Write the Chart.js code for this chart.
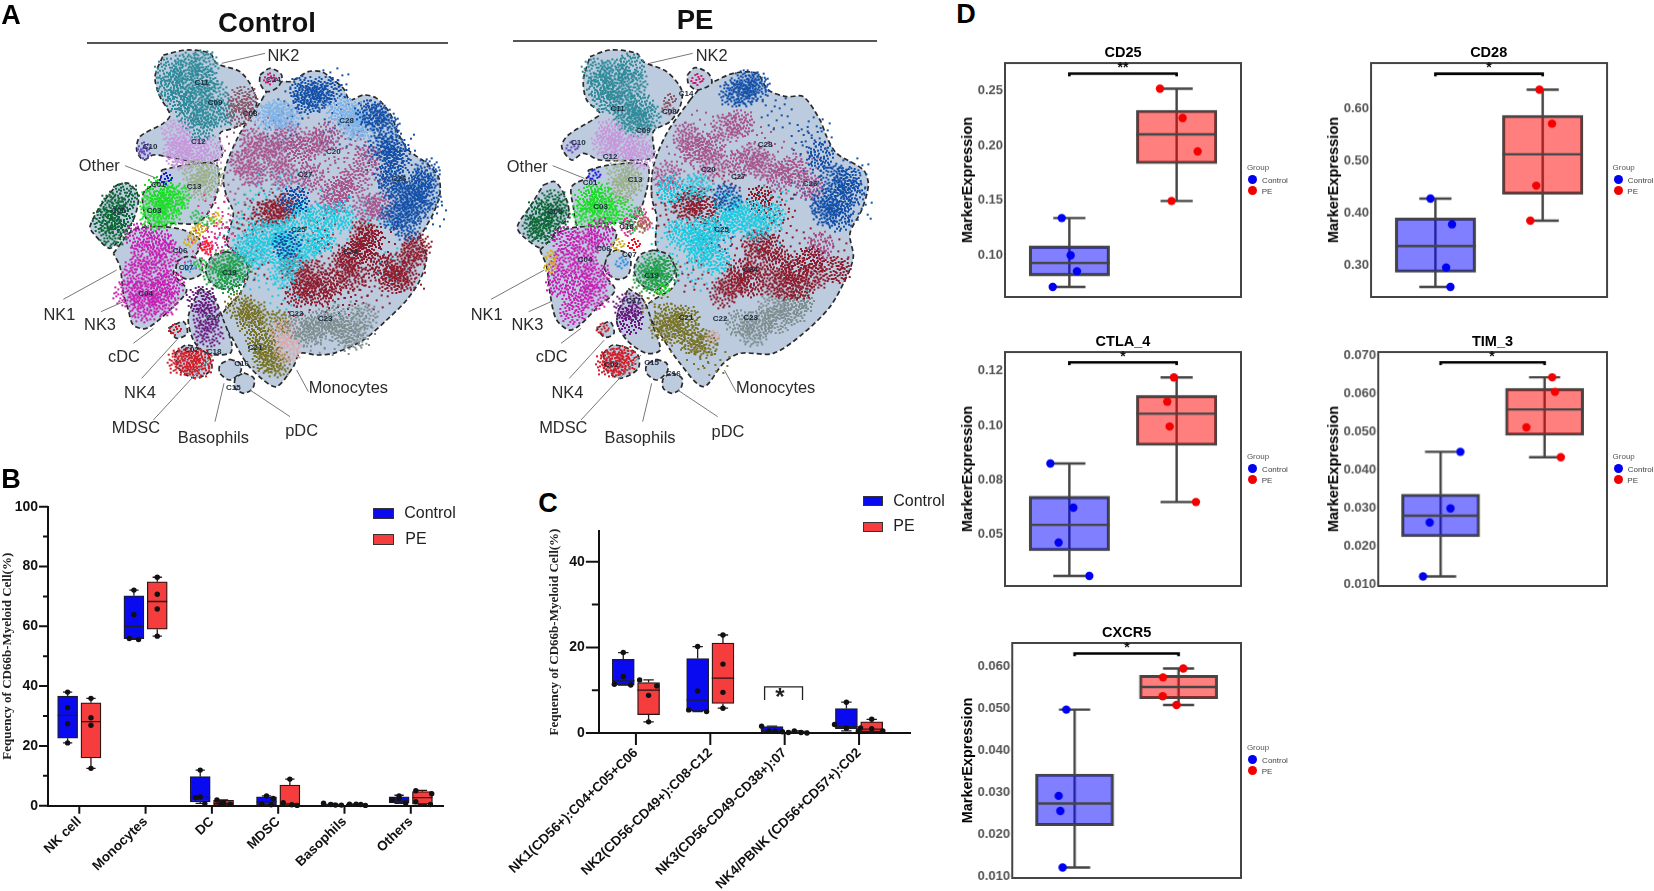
<!DOCTYPE html>
<html><head><meta charset="utf-8">
<script src="https://cdn.jsdelivr.net/npm/chart.js@4"></script>
<style>
html,body{margin:0;padding:0;background:#fff;width:1654px;height:891px;overflow:hidden;font-family:"Liberation Sans",Arial,sans-serif}
canvas{position:absolute}
.t{position:absolute;white-space:nowrap;transform:translate(-50%,-50%);line-height:1}
.r{position:absolute}
</style></head><body>
<script>
/* ---------- Panel B data ---------- */
const bCategories=['NK cell','Monocytes','DC','MDSC','Basophils','Others'];
const bControlStats=[[21,22.6,30.2,36.7,38],[55.6,55.9,60,70.2,72.1],[0.8,1.3,2.8,9.7,11.9],[0.3,0.3,1.3,3,3.3],[0.2,0.2,0.3,0.6,0.8],[0.8,1,1.9,3,3.5]];
const bPEStats=[[12.5,16,28.1,34.4,35.9],[56.7,59,68.3,74.9,76.4],[0.5,0.2,0.8,1.8,1.9],[0.1,0.1,0.6,6.9,8.9],[0.1,0.2,0.45,0.5,0.5],[0.4,0.5,2.7,4.7,5.1]];
const bControlPoints=[[38,32.8,27.4,21],[72.1,63.9,55.9,55.6],[11.9,2.9,2.7,0.7],[3.3,2.4,0.6,0.3],[0.8,0.4,0.2,0.2],[3.3,2.5,2,0.8]];
const bPEPoints=[[35.9,29.4,26.9,12.5],[76.4,70.7,65.8,56.7],[1.9,1,0.7,0.5],[8.9,1,0.3,0.1],[0.5,0.5,0.4,0.1],[5,4,1.3,0.4]];
const bControlJitter=[[0,0,0,0],[0,0,-0.07,0.07],[0,0,-0.07,0.07],[0,0.1,-0.07,0.07],[-0.14,-0.03,0.04,0.13],[0,0,-0.1,0.1]];
const bPEJitter=[[0,0,0,0],[0,0,0,0],[-0.1,0,-0.04,0.1],[0,-0.1,0.03,0.11],[-0.1,0,0.07,0.14],[-0.1,0.14,-0.1,0.12]];
const bYTicks=[0,10,20,30,40,50,60,70,80,90,100];
const bYLabels=['0','','20','','40','','60','','80','','100'];

/* ---------- Panel C data ---------- */
const cCategories=['NK1(CD56+):C04+C05+C06','NK2(CD56-CD49+):C08-C12','NK3(CD56-CD49-CD38+):07','NK4/PBNK (CD56+CD57+):C02'];
const cControlStats=[[11.2,11.2,12.2,17.2,18.8],[5,5.1,7.7,17.4,20.2],[0.3,0.3,0.7,1.5,1.6],[0.5,1,1.5,5.7,7.2]];
const cPEStats=[[2.6,4.3,10,11.8,12.4],[5.8,6.9,12.8,21,22.9],[0,0,0.2,0.5,0.5],[0.3,0.3,0.9,2.6,3.2]];
const cControlPoints=[[18.8,13.2,11.4,11.2],[20.2,9.8,5.4,5],[1.6,0.5,0.4,0.3],[7.2,2,1.1,0.5]];
const cPEPoints=[[12.4,11,8.8,2.6],[22.9,16.1,9.5,5.8],[0.1,0.5,0.1,0],[3.2,1.2,1,0.5]];
const cControlJitter=[[0,0,-0.12,0.1],[0,0,-0.12,0.12],[-0.14,-0.04,0.04,0.14],[0,-0.16,0,0.16]];
const cPEJitter=[[-0.12,0.11,0,0],[0,0,0,0],[-0.12,-0.04,0.05,0.13],[0,-0.15,0,0.15]];
const cYTicks=[0,10,20,30,40];
const cYLabels=['0','','20','','40'];
const cBracket=[[2.73,7.7],[2.73,10.8],[3.24,10.8],[3.24,7.7]];

/* ---------- Panel D data: [min, q1, median, q3, max] ---------- */
const dCD25Control=[0.0712,0.0812,0.093,0.1085,0.1339], dCD25PE=[0.1494,0.1833,0.21,0.2318,0.2515];
const dCD25ControlPts=[0.1339,0.1,0.0855,0.0712], dCD25PEPts=[0.2515,0.2248,0.1945,0.1494];
const dCD25ControlJit=[-0.071,0.012,0.071,-0.155], dCD25PEJit=[-0.155,0.056,0.196,-0.047];
const dCD25Ticks=[0.10,0.15,0.20,0.25], dCD25Labels=['0.10','0.15','0.20','0.25'];
const dCD28Control=[0.2585,0.2866,0.337,0.3906,0.4277], dCD28PE=[0.3855,0.436,0.5126,0.5872,0.6364];
const dCD28ControlPts=[0.4277,0.3785,0.2955,0.2585], dCD28PEPts=[0.6364,0.5713,0.4526,0.3855];
const dCD28ControlJit=[-0.046,0.155,0.1,0.14], dCD28PEJit=[-0.03,0.087,-0.06,-0.115];
const dCD28Ticks=[0.30,0.40,0.50,0.60], dCD28Labels=['0.30','0.40','0.50','0.60'];
const dCTLAControl=[0.0448,0.054,0.0635,0.074,0.086], dCTLAPE=[0.0719,0.0927,0.1043,0.111,0.1176];
const dCTLAControlPts=[0.086,0.0698,0.057,0.0448], dCTLAPEPts=[0.1176,0.1087,0.0996,0.0719];
const dCTLAControlJit=[-0.177,0.037,-0.1,0.186], dCTLAPEJit=[-0.025,-0.087,-0.065,0.18];
const dCTLATicks=[0.06,0.08,0.10,0.12], dCTLALabels=['0.05','0.08','0.10','0.12'];
const dTIMControl=[0.0121,0.0225,0.028,0.0336,0.0447], dTIMPE=[0.0433,0.049,0.0558,0.0613,0.0642];
const dTIMControlPts=[0.0447,0.0299,0.0262,0.0121], dTIMPEPts=[0.0642,0.0604,0.0511,0.0433];
const dTIMControlJit=[0.19,0.095,-0.105,-0.169], dTIMPEJit=[0.073,0.1,-0.175,0.156];
const dTIMTicks=[0.01,0.02,0.03,0.04,0.05,0.06,0.07], dTIMLabels=['0.010','0.020','0.030','0.040','0.050','0.060','0.070'];
const dCXCRControl=[0.0121,0.0221,0.0274,0.0344,0.0498], dCXCRPE=[0.0509,0.0524,0.0552,0.058,0.0596];
const dCXCRControlPts=[0.0498,0.0292,0.0256,0.0121], dCXCRPEPts=[0.0596,0.0575,0.053,0.0509];
const dCXCRControlJit=[-0.08,-0.153,-0.137,-0.115], dCXCRPEJit=[0.045,-0.15,-0.153,-0.02];
const dCXCRTicks=[0.01,0.02,0.03,0.04,0.05,0.06], dCXCRLabels=['0.010','0.020','0.030','0.040','0.050','0.060'];

/* ---------- Panel A: t-SNE regions ---------- */
const ctrlHullMain=[[785,300],[800,275],[845,245],[870,245],[890,235],[925,215],[965,215],[1000,240],[1030,265],[1050,300],[1090,285],[1130,295],[1170,340],[1195,400],[1225,450],[1280,490],[1315,530],[1320,580],[1300,640],[1275,685],[1260,715],[1280,770],[1260,840],[1220,900],[1160,960],[1090,1020],[1000,1060],[950,1065],[900,1060],[880,1100],[830,1160],[790,1140],[740,1090],[700,1020],[665,950],[720,880],[745,820],[720,770],[680,730],[700,640],[680,590],[670,540],[680,490],[720,400],[785,300]];
const ctrlHullNK2=[[490,165],[560,150],[630,160],[650,190],[720,215],[755,260],[770,310],[745,360],[700,385],[660,400],[665,470],[610,490],[550,480],[500,470],[460,465],[430,480],[410,450],[420,410],[490,370],[510,345],[480,290],[465,230],[490,165]];
const ctrlHullC14=[[780,225],[810,205],[845,225],[835,260],[800,275],[780,250],[780,225]];
const ctrlHullOther=[[485,510],[530,500],[590,490],[650,495],[655,560],[630,630],[590,670],[520,670],[470,680],[440,660],[430,580],[480,540],[485,510]];
const ctrlHullC05=[[350,555],[385,550],[415,590],[400,660],[370,700],[330,745],[280,700],[270,680],[300,620],[350,555]];
const ctrlHullC04=[[340,760],[400,690],[480,680],[550,690],[600,720],[590,760],[540,790],[520,820],[560,870],[520,920],[440,985],[400,975],[385,930],[370,880],[360,800],[340,760]];
const ctrlHullC07=[[530,785],[560,770],[600,780],[605,820],[565,838],[530,820],[530,785]];
const ctrlHullC19=[[680,755],[725,770],[745,810],[725,850],[680,868],[635,850],[617,810],[635,770],[680,755]];
const ctrlHullC17=[[600,865],[640,890],[670,960],[695,1030],[690,1060],[620,1060],[580,1020],[565,950],[600,865]];
const ctrlHullCDC=[[505,985],[550,965],[562,1000],[530,1015],[505,985]];
const ctrlHullC02=[[525,1060],[560,1035],[620,1060],[635,1105],[590,1135],[540,1110],[525,1060]];
const ctrlHullC16=[[690,1078],[720,1090],[722,1115],[690,1140],[660,1120],[660,1095],[690,1078]];
const ctrlHullC15=[[732,1118],[762,1135],[758,1165],[732,1180],[706,1165],[706,1135],[732,1118]];
const peHullMain=[[750,300],[790,255],[820,245],[880,220],[950,220],[985,270],[1040,290],[1090,290],[1140,360],[1160,410],[1190,460],[1270,510],[1285,555],[1265,630],[1230,700],[1240,770],[1220,830],[1170,920],[1090,1000],[1000,1060],[900,1060],[850,1090],[790,1160],[720,1090],[660,1000],[620,920],[700,860],[705,800],[650,745],[650,650],[635,590],[640,500],[680,400],[750,300]];
const peHullNK2=[[450,170],[510,150],[590,160],[610,185],[680,215],[725,270],[720,320],[690,365],[640,395],[640,470],[590,480],[480,480],[430,460],[395,480],[365,440],[385,405],[465,355],[480,340],[440,300],[430,240],[450,170]];
const peHullC14=[[742,225],[765,203],[805,220],[815,250],[770,270],[745,250],[742,225]];
const peHullOther=[[445,510],[510,495],[620,495],[620,570],[580,660],[480,670],[415,680],[400,620],[395,560],[445,530],[445,510]];
const peHullC05=[[310,555],[345,545],[380,600],[385,650],[350,690],[310,745],[250,710],[232,680],[270,620],[310,555]];
const peHullC04=[[300,750],[370,690],[500,680],[530,700],[500,780],[490,820],[525,870],[470,925],[395,990],[350,960],[330,880],[320,800],[300,750]];
const peHullC07=[[500,770],[530,750],[570,770],[565,825],[530,838],[495,810],[500,770]];
const peHullC19=[[640,750],[685,765],[705,810],[685,850],[640,870],[600,850],[582,810],[600,765],[640,750]];
const peHullC17=[[565,865],[610,900],[640,980],[660,1050],[620,1060],[560,1020],[530,960],[565,865]];
const peHullCDC=[[470,985],[510,965],[522,1000],[495,1012],[470,985]];
const peHullC02=[[490,1060],[520,1035],[590,1060],[595,1105],[540,1135],[500,1110],[490,1060]];
const peHullC16=[[650,1078],[680,1090],[682,1115],[650,1140],[620,1120],[620,1095],[650,1078]];
const peHullC15=[[696,1118],[726,1135],[722,1165],[696,1180],[670,1165],[670,1135],[696,1118]];

const ctrlC11=[[510,215],[560,200],[610,190],[510,260],[560,250],[610,240],[540,300],[590,295],[640,280],[570,340],[620,340],[660,340],[600,385]];
const ctrlC08=[[730,300],[720,335]];
const ctrlC12=[[530,400],[530,450],[580,450],[630,455],[545,470]];
const ctrlC10=[[432,445],[435,460]];
const ctrlC13=[[590,520],[630,530],[600,560]];
const ctrlC03=[[480,570],[460,610],[510,610],[460,650],[500,640],[530,590]];
const ctrlC01=[[498,537]];
const ctrlC05=[[375,590],[340,620],[320,660],[360,660],[340,700]];
const ctrlC04=[[420,710],[480,730],[500,760],[430,770],[410,820],[470,820],[510,850],[430,880],[480,880],[430,925],[490,910],[385,880]];
const ctrlC06=[[570,725],[590,695]];
const ctrlC07=[[570,800]];
const ctrlC19=[[680,790],[650,820],[710,800],[690,840]];
const ctrlC17=[[605,900],[620,950],[625,1000]];
const ctrlCDC=[[525,990]];
const ctrlC02=[[570,1085],[600,1090],[545,1085]];
const ctrlC14=[[810,238]];
const ctrlC21=[[720,920],[750,960],[780,1020],[830,1090],[800,1080],[830,970],[760,940],[800,1050]];
const ctrlC22=[[855,1000],[865,1045]];
const ctrlC23=[[900,980],[960,970],[1030,990],[1000,960],[1090,950],[930,1000],[1060,1010]];
const ctrlC24=[[830,640],[1090,700],[1080,750],[1240,760],[940,820],[990,850],[920,850],[1030,800],[1180,840],[1190,800],[1050,770],[800,640],[860,620],[1110,720],[1140,800],[1210,830],[1250,740],[900,880],[960,880],[1060,830],[880,800]];
const ctrlC25=[[830,700],[900,650],[960,650],[1020,650],[780,700],[830,750],[920,740],[850,820],[740,740],[860,700],[880,770],[960,720],[770,760]];
const ctrlC26=[[1210,590],[1260,550],[1210,640],[1250,620],[1180,450],[1130,350],[950,290],[910,270],[1170,530],[1280,520],[860,735],[885,600],[1180,560],[1240,580],[1280,590],[1220,680],[1180,650],[1150,440],[1110,340],[1160,380],[1190,480],[920,300],[980,270]];
const ctrlC28=[[1050,340],[1060,370],[830,340],[1020,330],[1080,380],[810,350],[860,350]];
const ctrlC27=[[800,440],[830,470],[900,450],[975,410],[730,490],[1100,620],[1020,570],[1100,480],[930,530],[760,430],[860,410],[940,430],[760,520],[850,520],[1060,540],[1000,600],[1140,620]];
const ctrlMauveSparse=[[760,480],[880,380],[960,470],[1060,450],[700,560],[1130,560],[880,530],[820,540],[1000,510],[1040,400],[720,440],[780,380],[1150,500],[940,590]];
const ctrlCyanSparse=[[760,620],[740,800],[850,880],[1000,700],[1130,640],[700,700],[800,560],[880,560],[940,700],[1180,790],[1000,600],[760,820],[1060,640]];
const ctrlRedSparse=[[760,650],[960,700],[1140,720],[1060,870],[1230,830],[890,900],[800,620],[720,700],[1130,800],[980,760],[760,800],[1130,880],[1020,900]];
const ctrlBlueSparse=[[1000,300],[850,400],[1200,440],[1290,640],[1100,350],[1120,430],[880,310],[1000,250],[1140,480],[1010,400]];
const ctrlGreySparse=[[1080,990],[1010,1020],[950,1010],[1040,950],[725,655]];
const ctrlSpecksRed=[[620,740],[622,745]];
const ctrlSpecksPink=[[650,690],[630,710],[640,630],[600,760],[660,720]];
const ctrlSpecksGreen=[[625,665],[590,650],[600,790]];
const ctrlSpecksGold=[[600,690],[650,655]];

const peC11=[[470,215],[520,220],[570,200],[480,260],[530,260],[580,250],[500,300],[550,310],[600,320],[560,350],[620,350],[590,370]];
const peC08=[[690,300],[685,325]];
const peC14=[[772,240]];
const peC12=[[500,430],[510,400],[590,440],[540,440],[600,470]];
const peC10=[[397,442]];
const peC13=[[545,520],[570,545],[545,570]];
const peC03=[[450,600],[480,590],[440,640],[490,640],[530,630]];
const peC05=[[340,610],[300,640],[310,690],[350,650],[290,680]];
const peC04=[[380,720],[440,730],[370,790],[430,790],[360,850],[420,860],[470,830],[400,930],[460,890],[480,700]];
const peC06=[[535,735],[335,770],[330,800]];
const peC07=[[545,790]];
const peC01=[[463,527]];
const peC19=[[640,800],[620,830],[670,810],[650,840]];
const peC15b=[[670,870]];
const peC17=[[565,920],[570,960]];
const peCDC=[[488,988]];
const peC02=[[530,1085],[550,1080],[510,1090]];
const peC21=[[690,950],[740,960],[670,980],[760,1020],[790,1030],[700,990]];
const peC22=[[820,1010]];
const peC23=[[900,970],[960,970],[1010,960],[1060,930],[940,1000],[1080,900],[1000,920]];
const peC24=[[740,620],[960,600],[990,740],[950,790],[1060,810],[1110,780],[880,850],[850,880],[1000,850],[930,850],[1080,860],[800,630],[1190,810],[1020,790],[950,730],[900,820],[1040,860],[1120,830],[760,600]];
const peC25=[[870,620],[930,640],[790,690],[780,760],[840,680],[990,650],[830,780],[720,700],[770,560],[690,570],[890,660],[950,680],[760,720],[800,730]];
const peC26=[[910,280],[950,260],[880,280],[1140,470],[1190,600],[1220,540],[1160,640],[1200,650],[860,590],[1150,610],[1230,580],[1180,530],[920,250]];
const peC27=[[900,370],[740,410],[810,440],[680,530],[970,500],[1060,510],[1110,560],[820,490],[900,490],[1140,740],[760,450],[860,380],[940,470],[1020,530]];
const peMauveSparse=[[780,380],[850,420],[960,420],[1020,470],[720,470],[1000,550],[760,520],[1090,500],[820,530]];
const peCyanSparse=[[730,640],[720,800],[800,830],[900,700],[980,700],[680,720],[830,600],[1000,600]];
const peRedSparse=[[680,590],[860,560],[900,760],[1010,660],[760,830],[800,710],[1180,760],[1100,730],[1020,620],[700,650]];
const peBlueSparse=[[1130,400],[1240,520],[1100,420],[830,720],[1250,620],[1010,340],[1100,560]];
const peOliveSparse=[[650,900],[620,880],[780,1050],[820,1080],[720,1010]];
const peSpecksPink=[[600,640],[620,670],[570,660],[560,690]];
const peSpecksGreen=[[590,640],[575,680]];
const peSpecksBrown=[[612,670],[605,680]];
const peRed=[[582,735]];

/* stamp = how one dab of a t-SNE cloud looks (dot offsets) */
const stampDense=[[-12,-3],[-10,4],[-9,-8],[-8,9],[-7,-1],[-6,-12],[-5,5],[-4,-6],[-4,12],[-3,1],[-2,-10],[-1,8],[0,-4],[0,3],[1,-13],[2,11],[2,-8],[3,5],[4,-1],[5,-11],[5,8],[6,-5],[7,2],[8,-9],[8,11],[9,5],[10,-3],[11,-7],[12,2],[13,7],[-13,6],[-11,-10],[-6,2],[-2,5],[1,-1],[4,-6],[7,-2],[-8,-5],[-1,-7],[3,13],[-5,9],[6,5],[11,-11],[-14,0],[-10,-1],[-7,6],[-5,-3],[-3,-13],[-3,9],[-1,2],[1,6],[2,-4],[3,0],[5,-3],[6,-8],[8,-1],[9,8],[10,1],[12,-4],[-9,11],[-12,1],[-4,-9],[0,10],[4,3],[7,9],[-15,-5],[14,-1],[-6,-7]];
const stampSparse=[[-15,-4],[-11,8],[-8,-12],[-5,2],[-1,13],[0,-7],[3,5],[6,-14],[8,9],[11,-3],[15,4],[-3,-16],[-14,12],[13,-10],[-9,-2],[5,-2],[-2,7],[9,15]];
const stampTiny=[[-5,-2],[-4,3],[-2,-5],[-1,0],[0,5],[1,-3],[3,2],[4,-4],[5,1],[-2,3],[2,-1],[0,-6],[6,-1],[-6,1]];

const mono='Liberation Sans';
function mount(x,y,w,h,blur){const c=document.createElement('canvas');c.width=w;c.height=h;c.style.cssText=`left:${x}px;top:${y}px;width:${w}px;height:${h}px`+(blur?`;filter:blur(${blur}px)`:'');document.body.appendChild(c);return c}
function text(s,x,y,css){const d=document.createElement('div');d.className='t';d.textContent=s;d.style.cssText=`left:${x}px;top:${y}px;`+css;document.body.appendChild(d);return d}
function rect(x,y,w,h,css){const d=document.createElement('div');d.className='r';d.style.cssText=`left:${x}px;top:${y}px;width:${w}px;height:${h}px;`+css;document.body.appendChild(d)}
const xy=a=>a.map(([x,y])=>({x,y}));
function joined(segs){const o=[];segs.forEach(s=>{s.forEach(([x,y])=>o.push({x,y}));o.push({x:null,y:null})});return o}

/* t-SNE stamps */
const stampCache={};
function stamps(color,kind){const key=color+kind;if(stampCache[key])return stampCache[key];
 const src=kind==='dense'?stampDense:kind==='sparse'?stampSparse:stampTiny;const out=[];
 const flips=[[1,0,0,1],[0,1,-1,0],[-1,0,0,-1],[0,-1,1,0],[-1,0,0,1],[1,0,0,-1]];
 flips.forEach(f=>{const c=document.createElement('canvas');c.width=c.height=36;const g=c.getContext('2d');g.fillStyle=color;
  src.forEach(([a,b])=>{g.fillRect(18+f[0]*a+f[1]*b-1,18+f[2]*a+f[3]*b-1,2,2)});out.push(c)});
 return stampCache[key]=out}
function cloud(color,kind,pts,idx){const v=stamps(color,kind);return {type:'scatter',data:xy(pts),pointStyle:pts.map((_,i)=>v[i%v.length]),pointRadius:6,pointBorderWidth:0,showLine:false,order:idx}}
function hull(pts,o){return {type:'scatter',showLine:true,data:xy(pts),fill:'shape',backgroundColor:'#bdcbdf',borderColor:'#2a2a2a',borderWidth:1.7,borderDash:[5,3],tension:0.3,pointRadius:0,order:o}}
function tsne(x,w,hulls,layers,leaders){
 const ds=[];hulls.forEach((h,i)=>ds.push(hull(h,200-i)));
 layers.forEach((l,i)=>ds.push(cloud(l[0],l[1],l[2],100-i)));
 ds.push({type:'scatter',showLine:true,data:joined(leaders),borderColor:'#777',borderWidth:1,pointRadius:0,order:1});
 new Chart(mount(x,0,w,450,0.35),{type:'scatter',data:{datasets:ds},options:{responsive:false,animation:false,devicePixelRatio:1,layout:{padding:0,autoPadding:false},
  plugins:{legend:{display:false},tooltip:{enabled:false}},
  scales:{x:{type:'linear',display:false,min:0,max:w*3},y:{type:'linear',display:false,reverse:true,min:0,max:1350}}}});
}
const cMauve='#a8558c',cCyan='#1ccbe0',cRed='#8f1d2d',cBlue='#1450a8',cGrey='#7f8f8f',cOlive='#7a7428';
const ctrlLeaders=[[[665,190],[795,160]],[[375,497],[470,535]],[[190,898],[350,810]],[[303,935],[370,905]],[[400,1030],[460,985]],[[425,1135],[530,1020]],[[460,1260],[640,1065]],[[645,1265],[672,1150]],[[870,1250],[750,1170]],[[925,1175],[890,1110]]];
const peLeaders=[[[628,190],[758,160]],[[338,497],[433,535]],[[153,898],[313,810]],[[266,935],[333,905]],[[363,1030],[423,985]],[[388,1135],[493,1020]],[[423,1260],[603,1065]],[[608,1265],[635,1150]],[[833,1250],[713,1170]],[[888,1175],[853,1110]]];
tsne(0,450,[ctrlHullMain,ctrlHullNK2,ctrlHullC14,ctrlHullOther,ctrlHullC05,ctrlHullC04,ctrlHullC07,ctrlHullC19,ctrlHullC17,ctrlHullCDC,ctrlHullC02,ctrlHullC16,ctrlHullC15],[
 [cMauve,'sparse',ctrlMauveSparse],[cCyan,'sparse',ctrlCyanSparse],[cRed,'sparse',ctrlRedSparse],[cBlue,'sparse',ctrlBlueSparse],[cGrey,'sparse',ctrlGreySparse],
 ['#2f8b9a','dense',ctrlC11],['#8b5a6b','dense',ctrlC08],['#c896dc','dense',ctrlC12],['#6a4dbd','tiny',ctrlC10],['#9cb08c','dense',ctrlC13],['#1fdd2a','dense',ctrlC03],['#1a1ae0','tiny',ctrlC01],['#0f6838','dense',ctrlC05],['#c820b4','dense',ctrlC04],['#d0b020','tiny',ctrlC06],['#4aa0e0','tiny',ctrlC07],['#22a04a','dense',ctrlC19],['#6a1b7f','dense',ctrlC17],['#d0202a','tiny',ctrlCDC],['#d0202a','dense',ctrlC02],['#c8206e','tiny',ctrlC14],
 [cOlive,'dense',ctrlC21],['#dca8a8','dense',ctrlC22],[cGrey,'dense',ctrlC23],[cMauve,'dense',ctrlC27],['#7fb4e8','dense',ctrlC28],[cRed,'dense',ctrlC24],[cCyan,'dense',ctrlC25],[cBlue,'dense',ctrlC26],['#ff1020','tiny',ctrlSpecksRed],['#e03a90','sparse',ctrlSpecksPink],['#30c050','tiny',ctrlSpecksGreen],['#d0b020','tiny',ctrlSpecksGold]],ctrlLeaders);
tsne(440,440,[peHullMain,peHullNK2,peHullC14,peHullOther,peHullC05,peHullC04,peHullC07,peHullC19,peHullC17,peHullCDC,peHullC02,peHullC16,peHullC15],[
 [cMauve,'sparse',peMauveSparse],[cCyan,'sparse',peCyanSparse],[cRed,'sparse',peRedSparse],[cBlue,'sparse',peBlueSparse],[cOlive,'sparse',peOliveSparse],
 ['#2f8b9a','dense',peC11],['#8b5a6b','tiny',peC08],['#c896dc','dense',peC12],['#6a4dbd','tiny',peC10],['#9cb08c','dense',peC13],['#1fdd2a','dense',peC03],['#1a1ae0','tiny',peC01],['#0f6838','dense',peC05],['#c820b4','dense',peC04],['#d0b020','tiny',peC06],['#2f8fe0','tiny',peC07],['#22a04a','dense',peC19],['#1fdd2a','tiny',peC15b],['#6a1b7f','dense',peC17],['#d0202a','tiny',peCDC],['#d0202a','dense',peC02],['#c8206e','tiny',peC14],
 [cOlive,'dense',peC21],['#dca8a8','tiny',peC22],[cGrey,'dense',peC23],[cMauve,'dense',peC27],[cRed,'dense',peC24],[cCyan,'dense',peC25],[cBlue,'dense',peC26],['#ff1020','tiny',peRed],['#e03a90','tiny',peSpecksPink],['#30c050','tiny',peSpecksGreen],['#a06a50','tiny',peSpecksBrown]],peLeaders);

/* box plot layers drawn through the scales */
function boxLayers(centers,stats,pts,jit,s,base){
 const w=[],m=[],p=[],bars=[];
 stats.forEach((q,i)=>{const x=centers[i];
  if(s.through){w.push([[x,q[0]],[x,q[4]]]);}else{w.push([[x,q[0]],[x,q[1]]]);w.push([[x,q[3]],[x,q[4]]]);}
  w.push([[x-s.cap,q[4]],[x+s.cap,q[4]]]);w.push([[x-s.cap,q[0]],[x+s.cap,q[0]]]);
  m.push([[x-s.half,q[2]],[x+s.half,q[2]]]);
  bars.push({x,y:[q[1],q[3]]});
  pts[i].forEach((v,j)=>p.push({x:x+jit[i][j],y:v}));});
 return [
  {type:'scatter',showLine:true,data:joined(w),borderColor:s.line,borderWidth:s.lw,pointRadius:0,order:base+3,clip:false},
  {type:'bar',data:bars,grouped:false,barThickness:s.px,backgroundColor:s.fill,borderColor:s.line,borderWidth:s.lw,borderSkipped:false,order:base+2,clip:false},
  {type:'scatter',showLine:true,data:joined(m),borderColor:s.line,borderWidth:s.lw,pointRadius:0,order:base+1,clip:false},
  {type:'scatter',showLine:false,data:p,pointRadius:s.r,pointBackgroundColor:s.pt,pointBorderWidth:0,order:base,clip:false}];
}
const range=n=>Array.from({length:n},(_,i)=>i+1);

/* tick marks through the scales: majors are labelled, minors are shorter */
const axisMarks={id:'axisMarks',afterDraw(ch,_,o){const g=ch.ctx,xs=ch.scales.x,ys=ch.scales.y;g.save();g.strokeStyle='#111';g.lineWidth=2;g.beginPath();
 o.xValues.forEach(v=>{const p=xs.getPixelForValue(v);g.moveTo(p,ys.bottom);g.lineTo(p,ys.bottom+o.xLen)});
 o.yValues.forEach((v,i)=>{const p=ys.getPixelForValue(v),L=o.yLabels[i]?o.yLen:o.yMinor;g.moveTo(xs.left,p);g.lineTo(xs.left-L,p)});
 g.stroke();g.restore()}};
function prismChart(o){
 const c0=range(o.cats.length);
 const ds=[...boxLayers(c0.map(v=>v-o.off),o.ctrl,o.ctrlPts,o.ctrlJit,{cap:o.cap,half:o.half,px:o.px,line:'#1c1c30',fill:'#0a0af0',lw:1.3,r:2.7,pt:'#111'},10),
  ...boxLayers(c0.map(v=>v+o.off),o.pe,o.pePts,o.peJit,{cap:o.cap,half:o.half,px:o.px,line:'#2a1414',fill:'#f53d3d',lw:1.3,r:2.7,pt:'#111'},0)];
 if(o.extra)ds.push(o.extra);
 new Chart(mount(o.x,o.y,o.w,o.h,0.25),{type:'bar',data:{datasets:ds},plugins:[axisMarks],options:{responsive:false,animation:false,devicePixelRatio:1,
  layout:{padding:{top:o.top,right:o.right,left:0,bottom:0},autoPadding:false},plugins:{legend:{display:false},tooltip:{enabled:false},
   axisMarks:{xValues:c0,yValues:o.yTicks,yLabels:o.yLabels,xLen:o.xTick,yLen:o.yTick,yMinor:o.yMinor}},
  scales:{
   x:{type:'linear',offset:false,min:o.xmin,max:o.xmax,afterBuildTicks:s=>{s.ticks=c0.map(value=>({value}))},afterFit:s=>{s.height=o.xh},
    border:{display:true,color:'#111',width:2},grid:{drawOnChartArea:false,tickLength:o.xTick,tickColor:'transparent',offset:false},
    ticks:{autoSkip:false,minRotation:o.rot,maxRotation:o.rot,padding:0,color:'#111',font:{family:mono,weight:'bold',size:o.catSize},callback:v=>o.cats[v-1]}},
   y:{type:'linear',min:0,max:o.ymax,afterBuildTicks:s=>{s.ticks=o.yTicks.map(value=>({value}))},afterFit:s=>{s.width=o.yw},
    border:{display:true,color:'#111',width:2},grid:{drawOnChartArea:false,tickLength:o.yTick,tickColor:'transparent'},
    ticks:{autoSkip:false,padding:1,color:'#111',font:{family:mono,weight:'bold',size:14},callback:(v,i)=>o.yLabels[i]},
    title:{display:true,text:'Fequency of CD66b-Myeloid Cell(%)',color:'#222',font:{family:'Liberation Serif',weight:'bold',size:13},padding:{top:o.titlePad,bottom:0}}}
  }}});
}
prismChart({x:0,y:490,w:460,h:400,top:16.7,right:17,yw:48,xh:84.3,xmin:0.528,xmax:6.486,off:0.176,cap:0.07,half:0.15,px:20,cats:bCategories,catSize:13.5,rot:44,
 ctrl:bControlStats,pe:bPEStats,ctrlPts:bControlPoints,pePts:bPEPoints,ctrlJit:bControlJitter,peJit:bPEJitter,ymax:100,yTicks:bYTicks,yLabels:bYLabels,xTick:8,yTick:9,yMinor:5,titlePad:0});
prismChart({x:500,y:520,w:430,h:371,top:11,right:20,yw:96.7,xh:158,xmin:0.502,xmax:4.685,off:0.17,cap:0.07,half:0.15,px:22,cats:cCategories,catSize:13.5,rot:44,
 ctrl:cControlStats,pe:cPEStats,ctrlPts:cControlPoints,pePts:cPEPoints,ctrlJit:cControlJitter,peJit:cPEJitter,ymax:47.2,yTicks:cYTicks,yLabels:cYLabels,xTick:12,yTick:13,yMinor:7,titlePad:45,
 extra:{type:'scatter',showLine:true,data:xy(cBracket),borderColor:'#222',borderWidth:1.3,pointRadius:0,order:0,clip:false}});

/* panel D */
const plotBorder={id:'plotBorder',afterDatasetsDraw(ch){const a=ch.chartArea,g=ch.ctx;g.save();g.strokeStyle='#444';g.lineWidth=2;g.strokeRect(a.left,a.top,a.right-a.left,a.bottom-a.top);g.restore()}};
function ggBox(o){
 const axisW=60,pad=14;
 const st={cap:0.15,half:0.375,r:4.2,lw:2.4,line:'#454545',through:true};
 const px=0.75*(o.r-o.l)/2.2;
 const ds=[...boxLayers([1],[o.ctrl],[o.ctrlPts],[o.ctrlJit],{...st,px,fill:'rgba(0,0,255,0.5)',pt:'#0000f5'},10),
  ...boxLayers([2],[o.pe],[o.pePts],[o.peJit],{...st,px,fill:'rgba(255,0,0,0.5)',pt:'#f50000'},0),
  {type:'scatter',showLine:true,data:xy([[1,o.tick],[1,o.br],[2,o.br],[2,o.tick]]),borderColor:'#000',borderWidth:2.6,pointRadius:0,order:-1,clip:false}];
 new Chart(mount(o.l-axisW,o.t-pad,axisW+(o.r-o.l)+pad,(o.b-o.t)+2*pad,0.25),{type:'bar',data:{datasets:ds},plugins:[plotBorder],options:{responsive:false,animation:false,devicePixelRatio:1,
  layout:{padding:{top:pad,bottom:pad,right:pad,left:0},autoPadding:false},plugins:{legend:{display:false},tooltip:{enabled:false}},
  scales:{x:{type:'linear',offset:false,display:false,min:0.4,max:2.6},
   y:{type:'linear',min:o.ymin,max:o.ymax,afterBuildTicks:s=>{s.ticks=o.ticks.map(value=>({value}))},afterFit:s=>{s.width=axisW},
    border:{display:false},grid:{display:false,drawTicks:false,tickLength:0},
    ticks:{autoSkip:false,padding:2,color:'#555',font:{family:mono,weight:'bold',size:13},callback:(v,i)=>o.labels[i]},
    title:{display:true,text:'MarkerExpression',color:'#000',font:{family:mono,weight:'bold',size:14.5},padding:{top:axisW-o.tgap-8.7,bottom:0}}}}}});
 text(o.name,(o.l+o.r)/2,o.t-11,`font:bold 14.5px ${mono};color:#000`);
 text(o.star,o.sx,o.t+4,`font:bold 14px ${mono};color:#111;filter:blur(.2px)`);
 const lx=o.r+6,ly=o.t+104;
 text('Group',lx+11,ly,`font:8px ${mono};color:#555`);
 rect(lx+1,ly+8,9,9,'background:#0000f0;border-radius:50%');
 rect(lx+1,ly+19,9,9,'background:#f00000;border-radius:50%');
 text('Control',lx+28,ly+13,`font:8px ${mono};color:#444`);
 text('PE',lx+20,ly+24,`font:8px ${mono};color:#444`);
}
ggBox({name:'CD25',l:1005,r:1241,t:63,b:296.7,ymin:0.0621,ymax:0.2748,ticks:dCD25Ticks,labels:dCD25Labels,ctrl:dCD25Control,pe:dCD25PE,ctrlPts:dCD25ControlPts,pePts:dCD25PEPts,ctrlJit:dCD25ControlJit,peJit:dCD25PEJit,br:0.2652,tick:0.2627,tgap:36.7,star:'**',sx:1123});
ggBox({name:'CD28',l:1370.7,r:1606.7,t:63,b:296.7,ymin:0.2394,ymax:0.6874,ticks:dCD28Ticks,labels:dCD28Labels,ctrl:dCD28Control,pe:dCD28PE,ctrlPts:dCD28ControlPts,pePts:dCD28PEPts,ctrlJit:dCD28ControlJit,peJit:dCD28PEJit,br:0.667,tick:0.662,tgap:36.7,star:'*',sx:1489});
ggBox({name:'CTLA_4',l:1005,r:1241,t:352,b:585.7,ymin:0.0411,ymax:0.1269,ticks:dCTLATicks,labels:dCTLALabels,ctrl:dCTLAControl,pe:dCTLAPE,ctrlPts:dCTLAControlPts,pePts:dCTLAPEPts,ctrlJit:dCTLAControlJit,peJit:dCTLAPEJit,br:0.1231,tick:0.1221,tgap:36.7,star:'*',sx:1123});
ggBox({name:'TIM_3',l:1378.3,r:1606.7,t:352,b:585.7,ymin:0.0096,ymax:0.0708,ticks:dTIMTicks,labels:dTIMLabels,ctrl:dTIMControl,pe:dTIMPE,ctrlPts:dTIMControlPts,pePts:dTIMPEPts,ctrlJit:dTIMControlJit,peJit:dTIMPEJit,br:0.0681,tick:0.0674,tgap:44.3,star:'*',sx:1492});
ggBox({name:'CXCR5',l:1012.3,r:1241,t:642.7,b:878,ymin:0.0096,ymax:0.0657,ticks:dCXCRTicks,labels:dCXCRLabels,ctrl:dCXCRControl,pe:dCXCRPE,ctrlPts:dCXCRControlPts,pePts:dCXCRPEPts,ctrlJit:dCXCRControlJit,peJit:dCXCRPEJit,br:0.0632,tick:0.06254,tgap:44,star:'*',sx:1127});

/* panel text */
const big=`font:bold 27px ${mono};color:#000`;
text('A',11,15,big);text('B',11,479,big);text('C',548,503,big);text('D',966,14,big);
text('Control',267,23,`font:bold 27.5px ${mono};color:#111`);text('PE',695,20,`font:bold 27.5px ${mono};color:#111`);
rect(87,42,361,2.4,'background:#555');rect(513,40,364,2.4,'background:#555');
const lab=`font:16.4px ${mono};color:#2a2a2a`;
const ctrlNames=[['NK2',850,165],['Other',298,495],['NK1',178,942],['NK3',300,972],['cDC',372,1068],['NK4',420,1175],['Monocytes',1045,1162],['MDSC',408,1282],['Basophils',640,1310],['pDC',905,1290]];
const peNames=[['NK2',815,165],['Other',262,497],['NK1',140,943],['NK3',262,972],['cDC',335,1068],['NK4',382,1175],['Monocytes',1007,1162],['MDSC',370,1282],['Basophils',600,1310],['pDC',864,1293]];
ctrlNames.forEach(([s,x,y])=>text(s,x/3,y/3,lab));
peNames.forEach(([s,x,y])=>text(s,440+x/3,y/3,lab));
const cl=`font:bold 8px ${mono};color:#1c2a3c`;
const ctrlTags=[['C11',605,245],['C09',645,305],['C08',750,340],['C14',820,237],['C28',1040,360],['C20',1000,452],['C27',915,522],['C26',1197,535],['C25',895,688],['C24',1052,752],['C23',975,955],['C22',888,940],['C21',765,1042],['C19',688,815],['C17',640,950],['C18',642,1052],['C16',725,1088],['C15',700,1160],['C02',575,1048],['C04',437,878],['C06',540,750],['C07',558,800],['C03',462,630],['C01',475,553],['C13',582,558],['C12',595,422],['C10',450,438],['C05',355,630]];
const peTags=[['C11',533,325],['C09',610,390],['C08',688,333],['C14',738,280],['C12',510,468],['C10',415,425],['C13',585,538],['C01',450,547],['C03',482,618],['C05',345,633],['C18',560,677],['C06',490,745],['C07',568,763],['C04',435,777],['C19',635,825],['C17',580,900],['C02',515,1092],['C15',635,1085],['C16',700,1120],['C20',805,507],['C27',895,527],['C28',975,432],['C26',1110,548],['C25',845,687],['C24',932,807],['C21',738,952],['C22',840,953],['C23',932,952]];
ctrlTags.forEach(([s,x,y])=>text(s,x/3,y/3,cl));
peTags.forEach(([s,x,y])=>text(s,440+x/3,y/3,cl));
/* B, C legends and star */
const legT=`font:16px ${mono};color:#222`;
rect(373,508,19,9,'background:#0a0af0;border:1.2px solid #333');rect(373,534,19,9,'background:#f53d3d;border:1.2px solid #333');
text('Control',430,513,legT);text('PE',416,539,legT);
rect(863,496,18,8,'background:#0a0af0;border:1.2px solid #333');rect(863,522,18,8,'background:#f53d3d;border:1.2px solid #333');
text('Control',919,501,legT);text('PE',904,526,legT);
text('*',780,697,`font:bold 24px ${mono};color:#222`);
</script>
</body></html>
